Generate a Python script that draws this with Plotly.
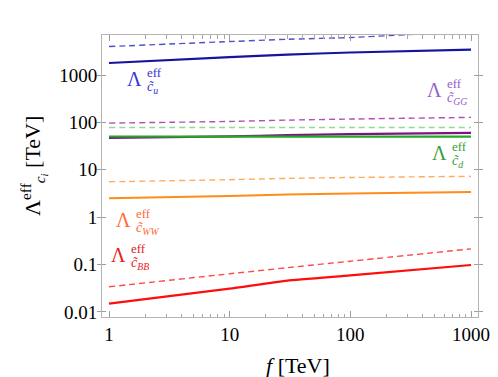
import numpy as np
import plotly.graph_objects as go

# ---- data ----
f_vals = [1, 10, 30, 100, 1000]
cu_solid = [1800, 2400, 2700, 3000, 3430]
cu_dash = [4000, 5100, 5700, 6200, 8400]
cgg_solid = [47, 51, 54, 57, 60]
cgg_dash = [97, 105, 112, 118, 128]
cd_solid = [50.5, 50.3, 50.2, 50.1, 50]
cd_dash = [78, 78, 78, 78, 78]
cww_solid = [2.5, 2.8, 3.0, 3.15, 3.4]
cww_dash = [5.6, 6.2, 6.6, 6.9, 7.3]
cbb_solid = [0.015, 0.031, 0.046, 0.059, 0.098]
cbb_dash = [0.034, 0.064, 0.086, 0.118, 0.215]

y_tickvals = [0.01, 0.1, 1, 10, 100, 1000]
y_ticktext = ["0.01", "0.1", "1", "10", "100", "1000"]
x_tickvals = [1, 10, 100, 1000]
x_ticktext = ["1", "10", "100", "1000"]
x_minor = [m * d for d in (1, 10, 100) for m in range(2, 10)]

FONT = "Liberation Serif"

series = [
    (cu_dash, "#5050c8", 1.4, "6px,4px"),
    (cu_solid, "#1414a0", 2.2, "solid"),
    (cgg_dash, "#b050b4", 1.4, "6px,4px"),
    (cd_dash, "#90dc90", 1.4, "6px,4px"),
    (cgg_solid, "#80108a", 2.2, "solid"),
    (cd_solid, "#22aa22", 2.2, "solid"),
    (cww_dash, "#ffad5c", 1.4, "6px,4px"),
    (cww_solid, "#ff8c1a", 2.0, "solid"),
    (cbb_dash, "#ff4a4a", 1.4, "6px,4px"),
    (cbb_solid, "#ff0d0d", 2.2, "solid"),
]

fig = go.Figure()
for ys, col, w, dash in series:
    fig.add_trace(go.Scatter(x=f_vals, y=ys, mode="lines",
                             line=dict(color=col, width=w, dash=dash, shape="spline", smoothing=0.4),
                             showlegend=False, hoverinfo="skip"))
# invisible trace to carry the top x axis
fig.add_trace(go.Scatter(x=f_vals, y=cd_solid, mode="lines", xaxis="x2",
                         line=dict(color="rgba(0,0,0,0)", width=0),
                         showlegend=False, hoverinfo="skip"))

W, H = 498, 377
L, R, T, B = 94, 470, 27, 309

def px(x):
    return (x - L) / (R - L)

def py(y):
    return (B - y) / (B - T)

annotations = []

def lam_label(xr, yc, sub, color):
    annotations.append(dict(x=px(xr), y=py(yc), xref="paper", yref="paper",
                            text="Λ", showarrow=False, xanchor="right", yanchor="middle",
                            font=dict(family=FONT, size=20, color=color)))
    annotations.append(dict(x=px(xr + 0.5), y=py(yc - 6.5), xref="paper", yref="paper",
                            text="eff", showarrow=False, xanchor="left", yanchor="middle",
                            font=dict(family=FONT, size=13, color=color)))
    annotations.append(dict(x=px(xr + 0.5), y=py(yc + 8), xref="paper", yref="paper",
                            text=sub, showarrow=False, xanchor="left", yanchor="middle",
                            font=dict(family=FONT, size=14, color=color)))

lam_label(136, 71, "<i>c̃</i><sub><i>u</i></sub>", "#3535d8")
lam_label(436, 82, "<i>c̃</i><sub><i>GG</i></sub>", "#9a5ccc")
lam_label(441, 145, "<i>c̃</i><sub><i>d</i></sub>", "#38a038")
lam_label(125, 212, "<i>c̃</i><sub><i>WW</i></sub>", "#ff6a33")
lam_label(120, 247, "<i>c̃</i><sub><i>BB</i></sub>", "#e82020")

# axis titles
annotations.append(dict(x=px(290), y=py(357), xref="paper", yref="paper",
                        text="<i>f</i> [TeV]", showarrow=False, xanchor="center", yanchor="middle",
                        font=dict(family=FONT, size=22, color="black")))
annotations.append(dict(x=px(26), y=py(158), xref="paper", yref="paper",
                        text="Λ<sup>eff</sup><sub><i>c<sub>i</sub></i></sub> [TeV]", showarrow=False,
                        textangle=-90, xanchor="center", yanchor="middle",
                        font=dict(family=FONT, size=22, color="black")))

xcommon = dict(type="log", range=[-0.058, 3.058], tickmode="array",
               tickvals=x_tickvals,
               ticks="inside", ticklen=6, tickcolor="#9c9c9c", tickwidth=1,
               minor=dict(tickmode="array", tickvals=x_minor, ticks="inside", ticklen=3.5,
                          tickcolor="#a8a8a8", tickwidth=1, showgrid=False),
               showline=True, linecolor="#b4b4b4", linewidth=1,
               showgrid=False, zeroline=False)

fig.update_layout(
    width=W, height=H,
    margin=dict(l=L, r=W - R, t=T, b=H - B, pad=0),
    paper_bgcolor="white", plot_bgcolor="white",
    annotations=annotations,
    xaxis=dict(**xcommon, ticktext=x_ticktext, mirror=False,
               tickfont=dict(family=FONT, size=19, color="black")),
    xaxis2=dict(**xcommon, overlaying="x", side="top", showticklabels=False, anchor="y"),
    yaxis=dict(type="log", range=[-2.106, 3.846], tickmode="array",
               tickvals=y_tickvals, ticktext=y_ticktext,
               ticks="inside", ticklen=4, tickcolor="#9c9c9c", tickwidth=1,
               showline=True, linecolor="#b4b4b4", linewidth=1, mirror="allticks",
               showgrid=False, zeroline=False,
               tickfont=dict(family=FONT, size=19, color="black")),
)

fig.write_html("out.html")
